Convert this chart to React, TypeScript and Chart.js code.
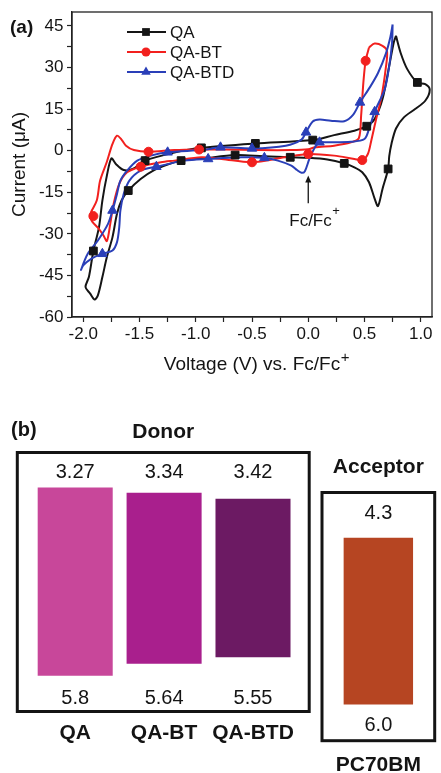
import React, { useEffect, useRef } from 'react';
import { Chart, registerables } from 'chart.js';

Chart.register(...registerables);

const FONT = "'Liberation Sans', Arial, Helvetica, sans-serif";
const INK = '#141414';

// ---------------- Panel (a): cyclic voltammograms ----------------
const seriesNames = ['QA', 'QA-BT', 'QA-BTD'];
const seriesColors = ['#151515', '#f2201e', '#2a3fb8'];
const seriesMarkers = ['rect', 'circle', 'triangle'];

// [voltage (V vs Fc/Fc+), current (uA)] traced around each closed scan
const qaCurve: number[][] = [
  [0.78, 41.4], [0.82, 35.4], [0.88, 29.4], [0.97, 24.6], [1.04, 24.0], [1.08, 22.0],
  [1.04, 18.0], [0.95, 15.0], [0.85, 12.0], [0.78, 8.0], [0.74, 2.5], [0.72, -2.0],
  [0.71, -6.6], [0.66, -13.8], [0.62, -20.0], [0.59, -17.3], [0.54, -11.4], [0.48, -7.8],
  [0.41, -6.0], [0.32, -4.6], [0.17, -3.2], [0.0, -2.6], [-0.16, -2.4], [-0.40, -2.0],
  [-0.65, -1.6], [-0.93, -2.8], [-1.13, -3.6], [-1.25, -5.0], [-1.37, -7.0], [-1.49, -10.2],
  [-1.60, -14.4], [-1.66, -18.0], [-1.70, -22.8], [-1.74, -31.2], [-1.79, -38.4], [-1.83, -45.6],
  [-1.87, -52.2], [-1.90, -53.7], [-1.94, -51.5], [-1.98, -49.2], [-1.95, -45.6], [-1.91, -36.2],
  [-1.86, -27.6], [-1.83, -18.0], [-1.79, -9.0], [-1.75, -2.8], [-1.71, -4.8], [-1.64, -7.0],
  [-1.56, -6.6], [-1.45, -3.6], [-1.20, -0.8], [-0.95, 1.0], [-0.47, 2.6], [0.04, 3.8],
  [0.23, 5.6], [0.41, 7.2], [0.52, 8.8], [0.59, 11.4], [0.66, 18.6], [0.72, 30.6],
  [0.76, 39.0], [0.78, 41.4],
];
const qaMarks: number[][] = [
  [0.97, 24.6], [0.71, -6.6], [0.32, -4.6], [-0.16, -2.4], [-0.65, -1.6], [-1.13, -3.6],
  [-1.60, -14.4], [-1.91, -36.2], [-1.45, -3.6], [-0.95, 1.0], [-0.47, 2.6], [0.04, 3.8],
  [0.52, 8.8],
];

const qaBtCurve: number[][] = [
  [0.54, 37.2], [0.59, 38.6], [0.66, 37.8], [0.70, 36.0], [0.69, 30.0], [0.65, 19.2],
  [0.60, 10.8], [0.56, 3.6], [0.53, -1.2], [0.48, -3.4], [0.41, -3.0], [0.23, -1.8],
  [0.0, -1.2], [-0.21, -2.4], [-0.50, -4.2], [-0.77, -3.0], [-0.95, -2.4], [-1.19, -3.6],
  [-1.31, -4.2], [-1.49, -5.8], [-1.61, -7.8], [-1.68, -12.0], [-1.73, -19.2], [-1.76, -26.4],
  [-1.79, -32.6], [-1.82, -30.6], [-1.87, -27.8], [-1.92, -25.6], [-1.94, -23.2], [-1.88, -18.0],
  [-1.85, -10.8], [-1.79, -4.0], [-1.74, 2.4], [-1.70, 5.4], [-1.66, 4.0], [-1.62, 1.8],
  [-1.55, 0.2], [-1.42, -0.4], [-1.19, 0.2], [-0.97, 0.4], [-0.74, 0.4], [-0.45, 0.2],
  [-0.15, 0.2], [0.0, 0.5], [0.06, 1.2], [0.23, 1.8], [0.38, 3.0], [0.45, 4.5],
  [0.47, 12.6], [0.49, 24.6], [0.51, 32.4], [0.54, 37.2],
];
const qaBtMarks: number[][] = [
  [0.48, -3.4], [0.0, -1.2], [-0.50, -4.2], [-1.49, -5.8], [-1.91, -23.6], [-1.42, -0.4],
  [-0.97, 0.4], [0.51, 32.4],
];

const qaBtdCurve: number[][] = [
  [0.75, 45.5], [0.745, 39.0], [0.72, 30.6], [0.68, 22.2], [0.59, 14.0], [0.54, 7.8],
  [0.50, 4.2], [0.38, 3.2], [0.17, 3.0], [0.10, 3.0], [0.06, 1.2], [0.01, -3.0],
  [-0.03, -7.4], [-0.06, -8.0], [-0.10, -7.0], [-0.15, -5.4], [-0.27, -3.6], [-0.39, -2.6],
  [-0.59, -2.4], [-0.89, -3.0], [-1.10, -3.6], [-1.35, -5.8], [-1.49, -7.2], [-1.59, -10.8],
  [-1.64, -15.6], [-1.67, -21.6], [-1.68, -27.6], [-1.70, -33.0], [-1.74, -36.0], [-1.83, -37.2],
  [-1.93, -39.0], [-2.0, -41.4], [-2.02, -43.0], [-1.96, -37.2], [-1.87, -32.4], [-1.78, -26.4],
  [-1.74, -21.6], [-1.70, -15.6], [-1.67, -10.8], [-1.61, -7.2], [-1.52, -3.6], [-1.40, -1.8],
  [-1.25, -0.6], [-0.93, 0.3], [-0.78, 1.2], [-0.50, 0.8], [-0.20, 1.8], [-0.06, 4.0],
  [-0.02, 6.6], [0.04, 10.5], [0.10, 11.2], [0.20, 10.8], [0.32, 10.6], [0.40, 13.0],
  [0.46, 17.4], [0.55, 23.0], [0.62, 28.0], [0.69, 35.0], [0.73, 41.0], [0.75, 45.5],
];
const qaBtdMarks: number[][] = [
  [0.59, 14.0], [0.10, 3.0], [-0.39, -2.6], [-0.89, -3.0], [-1.35, -5.8], [-1.83, -37.2],
  [-1.74, -21.6], [-1.25, -0.6], [-0.78, 1.2], [-0.50, 0.8], [-0.02, 6.6], [0.46, 17.4],
];

const xTickLabels = [-2.0, -1.5, -1.0, -0.5, 0.0, 0.5, 1.0];
const yTickLabels = [-60, -45, -30, -15, 0, 15, 30, 45];
const fcPotential = 0.0;
const xTitle = 'Voltage (V) vs. Fc/Fc';
const yTitle = 'Current (\u03BCA)';

// ---------------- Panel (b): energy levels (eV) ----------------
const donorNames = ['QA', 'QA-BT', 'QA-BTD'];
const donorLumo = [3.27, 3.34, 3.42];
const donorHomo = [5.8, 5.64, 5.55];
const donorColors = ['#c8479a', '#a91f8d', '#6c1a63'];

const acceptorNames = ['PC70BM'];
const acceptorLumo = [4.3];
const acceptorHomo = [6.0];
const acceptorColors = ['#b64522'];

const fmtEnergy = (v: number) =>
  Math.abs(Math.round(v * 10) - v * 10) < 1e-9 ? v.toFixed(1) : v.toFixed(2);

function drawMarker(ctx: CanvasRenderingContext2D, style: string, x: number, y: number, r: number) {
  ctx.beginPath();
  if (style === 'rect') {
    const s = r * Math.SQRT1_2;
    ctx.rect(x - s, y - s, 2 * s, 2 * s);
  } else if (style === 'circle') {
    ctx.arc(x, y, r, 0, Math.PI * 2);
  } else {
    for (let k = 0; k < 3; k++) {
      const a = (k * 2 * Math.PI) / 3;
      const px = x + Math.sin(a) * r;
      const py = y - Math.cos(a) * r;
      if (k === 0) ctx.moveTo(px, py); else ctx.lineTo(px, py);
    }
    ctx.closePath();
  }
  ctx.fill();
}

const markerSize = (style: string) => (style === 'circle' ? 4.5 : 5.5);

const zeroPad = (s: any) => {
  s.paddingTop = 0; s.paddingBottom = 0; s.paddingLeft = 0; s.paddingRight = 0;
};

const TITLE_SIZE = 19;
const X_TITLE_PAD = 8.6;

const cvDecor = {
  id: 'cvDecor',
  afterDraw(chart: any) {
    const { ctx, chartArea: ca, scales } = chart;
    ctx.save();
    // frame
    ctx.strokeStyle = '#222';
    ctx.lineWidth = 1.3;
    ctx.strokeRect(ca.left, ca.top, ca.right - ca.left, ca.bottom - ca.top);
    // panel label
    ctx.fillStyle = INK;
    ctx.font = `bold 19px ${FONT}`;
    ctx.textAlign = 'left';
    ctx.textBaseline = 'middle';
    ctx.fillText('(a)', 10, 28);
    // superscript "+" of the x-axis title
    ctx.font = `${TITLE_SIZE}px ${FONT}`;
    const tw = ctx.measureText(xTitle).width;
    const tY = scales.x.bottom - (TITLE_SIZE * 1.2) / 2 - X_TITLE_PAD;
    const tEnd = (scales.x.left + scales.x.right) / 2 + tw / 2;
    ctx.font = `15px ${FONT}`;
    ctx.fillText('+', tEnd + 0.5, tY - 7);
    // legend
    ctx.font = `17px ${FONT}`;
    seriesNames.forEach((name, i) => {
      const y = ca.top + 20 + i * 20;
      ctx.strokeStyle = seriesColors[i];
      ctx.fillStyle = seriesColors[i];
      ctx.lineWidth = 2;
      ctx.beginPath();
      ctx.moveTo(ca.left + 55, y);
      ctx.lineTo(ca.left + 94, y);
      ctx.stroke();
      drawMarker(ctx, seriesMarkers[i], ca.left + 74, y, markerSize(seriesMarkers[i]));
      ctx.fillStyle = INK;
      ctx.fillText(name, ca.left + 98, y + 1);
    });
    // Fc/Fc+ reference arrow
    const ax = scales.x.getPixelForValue(fcPotential);
    const tipY = scales.y.getPixelForValue(-9);
    const tailY = scales.y.getPixelForValue(-19);
    ctx.strokeStyle = INK;
    ctx.fillStyle = INK;
    ctx.lineWidth = 1.3;
    ctx.beginPath();
    ctx.moveTo(ax, tipY + 5);
    ctx.lineTo(ax, tailY);
    ctx.stroke();
    ctx.beginPath();
    ctx.moveTo(ax, tipY);
    ctx.lineTo(ax - 3, tipY + 7);
    ctx.lineTo(ax + 3, tipY + 7);
    ctx.closePath();
    ctx.fill();
    const ty = scales.y.getPixelForValue(-25.5);
    ctx.font = `17px ${FONT}`;
    ctx.textAlign = 'left';
    const w = ctx.measureText('Fc/Fc').width;
    const lx = ax - 19;
    ctx.fillText('Fc/Fc', lx, ty);
    ctx.font = `13px ${FONT}`;
    ctx.fillText('+', lx + w + 0.5, ty - 10);
    ctx.restore();
  },
};

function cvConfig(): any {
  const curves = [qaCurve, qaBtCurve, qaBtdCurve];
  const marks = [qaMarks, qaBtMarks, qaBtdMarks];
  const drawOrder = [2, 1, 0];
  const markerSets = drawOrder.map((i) => ({
    label: seriesNames[i] + ' symbols',
    data: marks[i],
    showLine: false,
    pointStyle: seriesMarkers[i],
    pointRadius: markerSize(seriesMarkers[i]),
    pointBackgroundColor: seriesColors[i],
    pointBorderColor: seriesColors[i],
    pointBorderWidth: 1,
  }));
  const lineSets = drawOrder.map((i) => ({
    label: seriesNames[i],
    data: curves[i],
    showLine: true,
    borderColor: seriesColors[i],
    borderWidth: 2,
    tension: 0.3,
    pointRadius: 0,
    fill: false,
  }));
  const tickFont = { family: FONT, size: 17 };
  const isLabeled = (list: number[], v: number) => list.some((t) => Math.abs(t - v) < 1e-6);
  return {
    type: 'scatter',
    data: { datasets: [...markerSets, ...lineSets] },
    options: {
      responsive: false,
      animation: false,
      events: [],
      layout: { padding: { left: 0, top: 12, right: 9, bottom: 0 } },
      plugins: { legend: { display: false }, tooltip: { enabled: false } },
      scales: {
        x: {
          type: 'linear',
          min: -2.1,
          max: 1.1,
          border: { display: true, color: '#222', width: 1.3 },
          grid: { display: true, drawOnChartArea: false, drawTicks: true, tickLength: 5, color: '#222', tickWidth: 1.2 },
          ticks: {
            stepSize: 0.25,
            includeBounds: false,
            autoSkip: false,
            maxRotation: 0,
            padding: 2,
            color: INK,
            font: tickFont,
            callback: (v: any) => (isLabeled(xTickLabels, Number(v)) ? Number(v).toFixed(1) : ''),
          },
          title: {
            display: true,
            text: xTitle,
            color: INK,
            font: { family: FONT, size: TITLE_SIZE },
            padding: { top: 0, bottom: X_TITLE_PAD },
          },
          afterFit: (s: any) => { s.height = 68; zeroPad(s); },
        },
        y: {
          type: 'linear',
          min: -60,
          max: 50,
          border: { display: true, color: '#222', width: 1.3 },
          grid: { display: true, drawOnChartArea: false, drawTicks: true, tickLength: 5, color: '#222', tickWidth: 1.2 },
          ticks: {
            stepSize: 7.5,
            includeBounds: false,
            autoSkip: false,
            padding: 3.5,
            color: INK,
            font: tickFont,
            callback: (v: any) => (isLabeled(yTickLabels, Number(v)) ? String(Math.round(Number(v))) : ''),
          },
          title: {
            display: true,
            text: yTitle,
            color: INK,
            font: { family: FONT, size: TITLE_SIZE },
            padding: { top: 8, bottom: 0 },
          },
          afterFit: (s: any) => { s.width = 72; zeroPad(s); },
        },
      },
    },
    plugins: [cvDecor],
  };
}

function energyPlugin(opts: {
  title: string; titleGap: number; lumo: number[]; homo: number[];
  padL: number; padR: number; topGap: number; bottomGap: number; panelLabel?: string;
}) {
  return {
    id: 'energyDecor',
    afterDraw(chart: any) {
      const { ctx, chartArea: ca } = chart;
      const meta = chart.getDatasetMeta(0);
      ctx.save();
      const L = ca.left - opts.padL;
      const R = ca.right + opts.padR;
      ctx.strokeStyle = INK;
      ctx.lineWidth = 3;
      ctx.strokeRect(L, ca.top, R - L, ca.bottom - ca.top);
      ctx.fillStyle = INK;
      ctx.textAlign = 'center';
      ctx.textBaseline = 'middle';
      ctx.font = `bold 21px ${FONT}`;
      ctx.fillText(opts.title, (L + R) / 2, ca.top - opts.titleGap);
      ctx.font = `20px ${FONT}`;
      meta.data.forEach((bar: any, i: number) => {
        ctx.fillText(fmtEnergy(opts.lumo[i]), bar.x, ca.top + opts.topGap);
        ctx.fillText(fmtEnergy(opts.homo[i]), bar.x, ca.bottom - opts.bottomGap);
      });
      if (opts.panelLabel) {
        ctx.textAlign = 'left';
        ctx.font = `bold 20px ${FONT}`;
        ctx.fillText(opts.panelLabel, 11, 45);
      }
      ctx.restore();
    },
  };
}

function energyConfig(p: {
  names: string[]; lumo: number[]; homo: number[]; colors: string[];
  barPct: number; padding: any; axisHeight: number; labelPad: number;
  yMin: number; yMax: number; plugin: any;
}): any {
  return {
    type: 'bar',
    data: {
      labels: p.names,
      datasets: [{
        data: p.names.map((_, i) => [p.lumo[i], p.homo[i]]),
        backgroundColor: p.colors,
        borderWidth: 0,
        borderSkipped: false,
        barPercentage: p.barPct,
        categoryPercentage: 1,
      }],
    },
    options: {
      responsive: false,
      animation: false,
      events: [],
      layout: { padding: p.padding },
      plugins: { legend: { display: false }, tooltip: { enabled: false } },
      scales: {
        x: {
          grid: { display: false, drawTicks: false },
          border: { display: false },
          ticks: {
            color: INK,
            font: { family: FONT, size: 21, weight: 'bold' },
            padding: p.labelPad,
            maxRotation: 0,
            autoSkip: false,
          },
          afterFit: (s: any) => { s.height = p.axisHeight; zeroPad(s); },
        },
        y: { display: false, reverse: true, min: p.yMin, max: p.yMax },
      },
    },
    plugins: [p.plugin],
  };
}

export default function App() {
  const cvRef = useRef<HTMLCanvasElement>(null);
  const donorRef = useRef<HTMLCanvasElement>(null);
  const accRef = useRef<HTMLCanvasElement>(null);

  useEffect(() => {
    const charts = [
      new Chart(cvRef.current as HTMLCanvasElement, cvConfig()),
      new Chart(donorRef.current as HTMLCanvasElement, energyConfig({
        names: donorNames, lumo: donorLumo, homo: donorHomo, colors: donorColors,
        barPct: 0.844,
        padding: { left: 30.75, right: 22.55, top: 67.5, bottom: 0 },
        axisHeight: 61.5, labelPad: 9.2, yMin: 2.8, yMax: 6.28,
        plugin: energyPlugin({
          title: 'Donor', titleGap: 20.5, lumo: donorLumo, homo: donorHomo,
          padL: 13.45, padR: 11.75, topGap: 20.2, bottomGap: 13.2, panelLabel: '(b)',
        }),
      })),
      new Chart(accRef.current as HTMLCanvasElement, energyConfig({
        names: acceptorNames, lumo: acceptorLumo, homo: acceptorHomo, colors: acceptorColors,
        barPct: 0.616,
        padding: { left: 11, right: 6.3, top: 107.5, bottom: 0 },
        axisHeight: 32.3, labelPad: 12.4, yMin: 3.84, yMax: 6.37,
        plugin: energyPlugin({
          title: 'Acceptor', titleGap: 25.5, lumo: acceptorLumo, homo: acceptorHomo,
          padL: 0, padR: 0, topGap: 20.8, bottomGap: 15.7,
        }),
      })),
    ];
    return () => charts.forEach((c) => c.destroy());
  }, []);

  return (
    <div style={{ position: 'fixed', left: 0, top: 0, width: 441, height: 773, background: '#fff', overflow: 'hidden' }}>
      <canvas ref={cvRef} width={441} height={385} style={{ position: 'absolute', left: 0, top: 0, width: 441, height: 385 }} />
      <canvas ref={donorRef} width={320} height={388} style={{ position: 'absolute', left: 0, top: 385, width: 320, height: 388 }} />
      <canvas ref={accRef} width={130} height={388} style={{ position: 'absolute', left: 311, top: 385, width: 130, height: 388 }} />
    </div>
  );
}
